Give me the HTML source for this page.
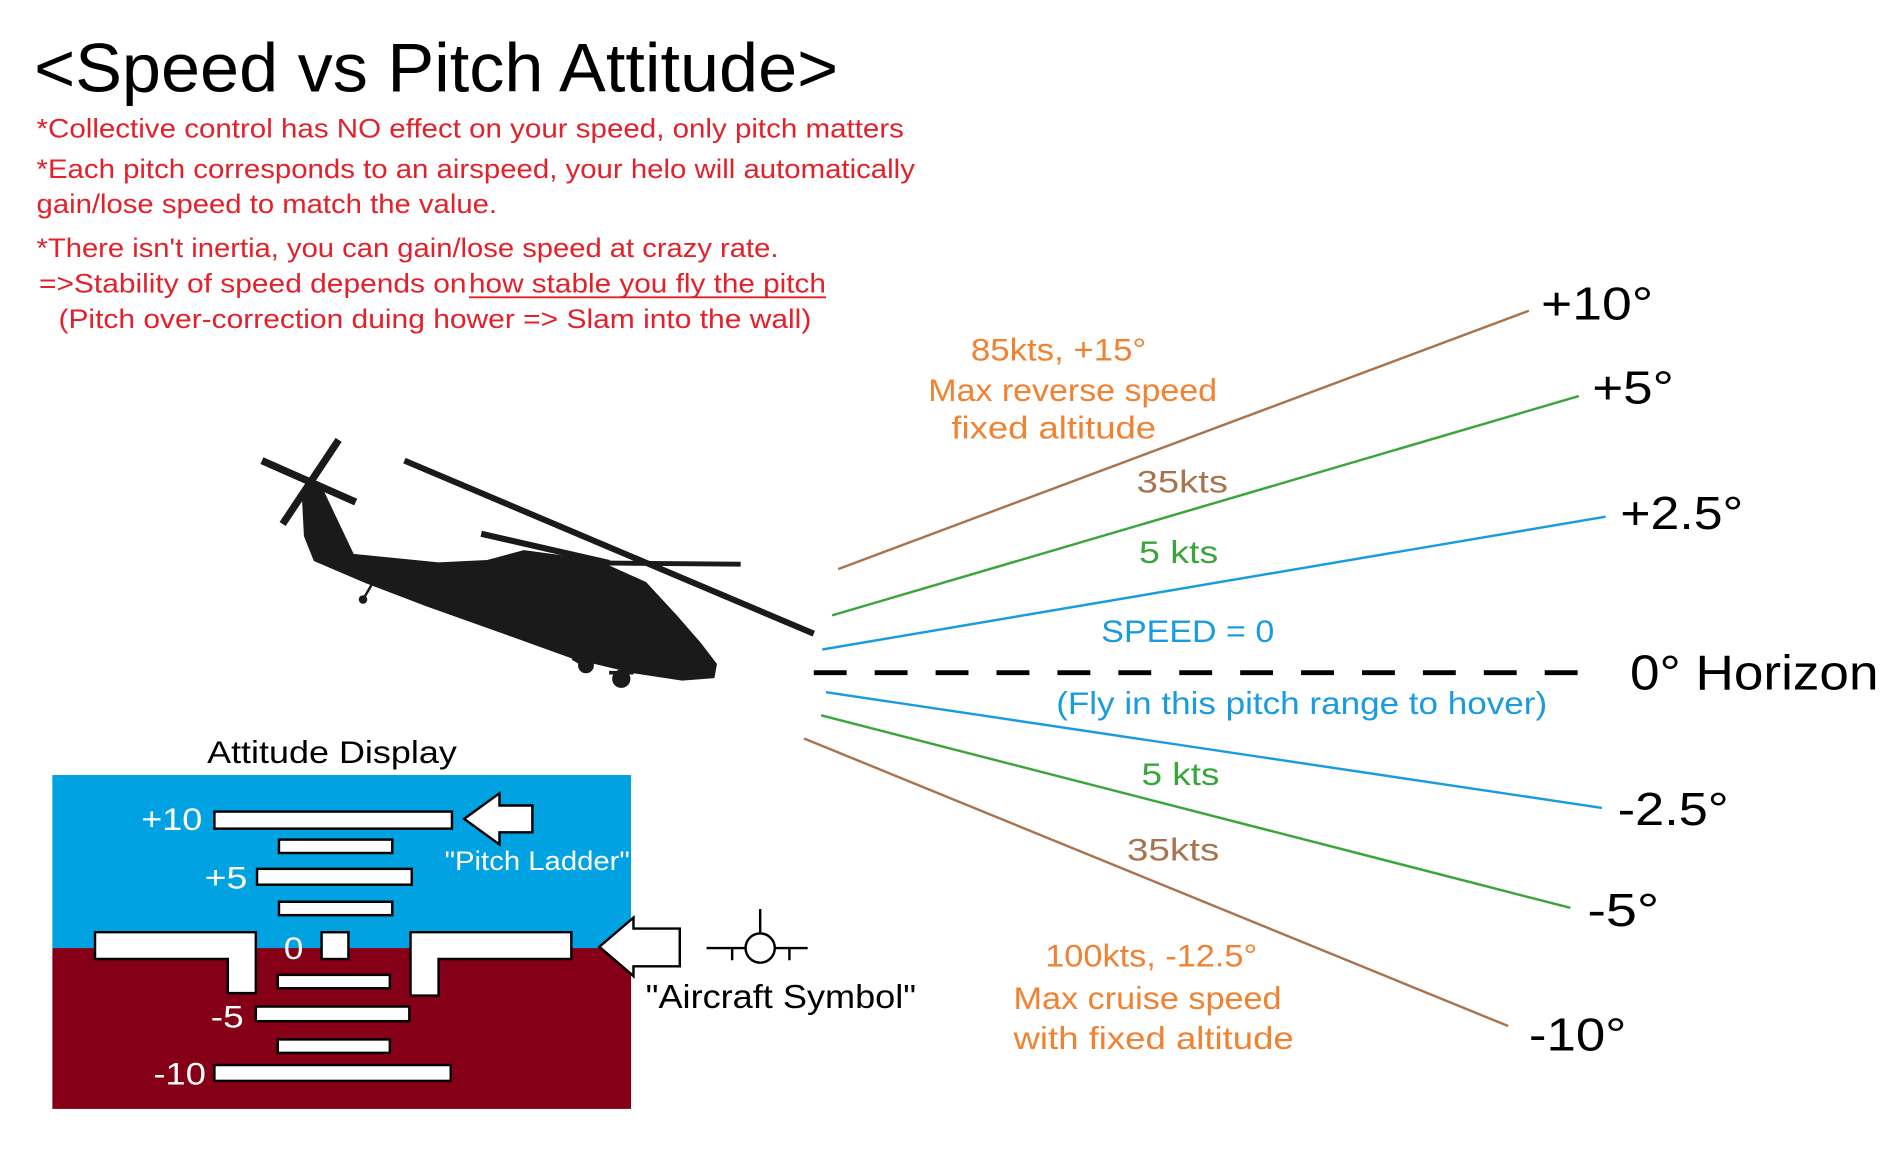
<!DOCTYPE html>
<html><head><meta charset="utf-8"><style>html,body{margin:0;padding:0;background:#fff}svg{display:block}</style></head>
<body>
<svg width="1898" height="1154" viewBox="0 0 1558 947" preserveAspectRatio="none" xmlns="http://www.w3.org/2000/svg" font-family="Liberation Sans, sans-serif">
<rect width="1558" height="947" fill="#fff"/>
<text x="28" y="75" font-size="56" fill="#000" textLength="660" lengthAdjust="spacingAndGlyphs">&lt;Speed vs Pitch Attitude&gt;</text>
<g fill="#e3212b" font-size="22">
<text x="30" y="113" textLength="712" lengthAdjust="spacingAndGlyphs">*Collective control has NO effect on your speed, only pitch matters</text>
<text x="30" y="146" textLength="721" lengthAdjust="spacingAndGlyphs">*Each pitch corresponds to an airspeed, your helo will automatically</text>
<text x="30" y="175" textLength="378" lengthAdjust="spacingAndGlyphs">gain/lose speed to match the value.</text>
<text x="30" y="211" textLength="609" lengthAdjust="spacingAndGlyphs">*There isn't inertia, you can gain/lose speed at crazy rate.</text>
<text x="32" y="240" textLength="351" lengthAdjust="spacingAndGlyphs">=&gt;Stability of speed depends on</text>
<text x="385" y="240" textLength="293" lengthAdjust="spacingAndGlyphs">how stable you fly the pitch</text>
<text x="48" y="269" textLength="618" lengthAdjust="spacingAndGlyphs">(Pitch over-correction duing hower =&gt; Slam into the wall)</text>
</g>
<line x1="385" y1="244" x2="678" y2="244" stroke="#e3212b" stroke-width="1.5"/>

<!-- helicopter -->
<g fill="#1a1a1a" stroke="#1a1a1a">
<polygon points="248,402 262,396 290,455 360,462 400,460 430,452 490,460 530,478 555,505 575,528 588,545 586,556 560,558 520,552 470,540 420,522 350,497 300,478 258,460 250,440"/>
<line x1="332" y1="378" x2="668" y2="520" stroke-width="5"/>
<line x1="395" y1="438" x2="500" y2="462" stroke-width="5"/>
<line x1="490" y1="462" x2="608" y2="463" stroke-width="4"/>
<line x1="215" y1="378" x2="292" y2="412" stroke-width="6"/>
<line x1="278" y1="361" x2="232" y2="430" stroke-width="6"/>
<circle cx="481" cy="546" r="6"/><circle cx="510" cy="557" r="7"/>
<line x1="470" y1="540" x2="480" y2="546" stroke-width="3"/><line x1="500" y1="552" x2="520" y2="552" stroke-width="3"/>
<line x1="490" y1="462" x2="492" y2="475" stroke-width="6"/>
<circle cx="298" cy="492" r="3"/><line x1="298" y1="492" x2="305" y2="480" stroke-width="2"/>
</g>

<!-- lines -->
<g stroke-width="2" fill="none">
<line x1="688" y1="467" x2="1255" y2="255" stroke="#a8744f"/>
<line x1="683" y1="505" x2="1296" y2="325" stroke="#3aa53a"/>
<line x1="675" y1="533" x2="1318" y2="424" stroke="#1a9be0"/>
<line x1="678" y1="568" x2="1315" y2="663" stroke="#1a9be0"/>
<line x1="674" y1="587" x2="1289" y2="745" stroke="#3aa53a"/>
<line x1="660" y1="606" x2="1238" y2="842" stroke="#a8744f"/>
<line x1="668" y1="552" x2="1318" y2="552" stroke="#000" stroke-width="4" stroke-dasharray="27 23"/>
</g>

<g font-size="38" fill="#000">
<text x="1265" y="262" textLength="92" lengthAdjust="spacingAndGlyphs">+10°</text>
<text x="1307" y="331" textLength="67" lengthAdjust="spacingAndGlyphs">+5°</text>
<text x="1330" y="434" textLength="101" lengthAdjust="spacingAndGlyphs">+2.5°</text>
<text x="1338" y="566" font-size="40" textLength="204" lengthAdjust="spacingAndGlyphs">0° Horizon</text>
<text x="1328" y="677" textLength="91" lengthAdjust="spacingAndGlyphs">-2.5°</text>
<text x="1303" y="760" textLength="59" lengthAdjust="spacingAndGlyphs">-5°</text>
<text x="1255" y="862" textLength="80" lengthAdjust="spacingAndGlyphs">-10°</text>
</g>

<g font-size="26">
<text x="797" y="296" fill="#f08232" textLength="144" lengthAdjust="spacingAndGlyphs">85kts, +15°</text>
<text x="762" y="329" fill="#f08232" textLength="237" lengthAdjust="spacingAndGlyphs">Max reverse speed</text>
<text x="781" y="360" fill="#f08232" textLength="168" lengthAdjust="spacingAndGlyphs">fixed altitude</text>
<text x="933" y="404" fill="#a8744f" textLength="75" lengthAdjust="spacingAndGlyphs">35kts</text>
<text x="935" y="462" fill="#3aa53a" textLength="65" lengthAdjust="spacingAndGlyphs">5 kts</text>
<text x="904" y="527" fill="#1a9be0" textLength="142" lengthAdjust="spacingAndGlyphs">SPEED = 0</text>
<text x="867" y="586" fill="#1a9be0" textLength="403" lengthAdjust="spacingAndGlyphs">(Fly in this pitch range to hover)</text>
<text x="937" y="644" fill="#3aa53a" textLength="64" lengthAdjust="spacingAndGlyphs">5 kts</text>
<text x="925" y="706" fill="#a8744f" textLength="76" lengthAdjust="spacingAndGlyphs">35kts</text>
<text x="858" y="793" fill="#f08232" textLength="174" lengthAdjust="spacingAndGlyphs">100kts, -12.5°</text>
<text x="832" y="828" fill="#f08232" textLength="220" lengthAdjust="spacingAndGlyphs">Max cruise speed</text>
<text x="832" y="861" fill="#f08232" textLength="230" lengthAdjust="spacingAndGlyphs">with fixed altitude</text>
</g>

<!-- attitude display -->
<text x="170" y="626" font-size="26" fill="#000" textLength="205" lengthAdjust="spacingAndGlyphs">Attitude Display</text>
<rect x="43" y="636" width="475" height="142" fill="#00a2e2"/>
<rect x="43" y="778" width="475" height="132" fill="#850016"/>
<g fill="#fff" stroke="#000" stroke-width="2">
<rect x="176" y="666" width="195" height="14"/>
<rect x="229" y="689" width="93" height="11"/>
<rect x="211" y="713" width="127" height="13"/>
<rect x="229" y="740" width="93" height="11"/>
<polygon points="78,765 210,765 210,815 187,815 187,787 78,787"/>
<rect x="264" y="765" width="22" height="22"/>
<polygon points="337,765 469,765 469,787 360,787 360,817 337,817"/>
<rect x="228" y="800" width="92" height="11"/>
<rect x="210" y="826" width="126" height="12"/>
<rect x="228" y="853" width="92" height="11"/>
<rect x="176" y="874" width="194" height="13"/>
<polygon points="381,672 410,651 410,661 437,661 437,683 410,683 410,693"/>
<polygon points="492,777 520,753 520,762 558,762 558,793 520,793 520,801"/>
</g>
<g fill="#fff" font-size="26">
<text x="116" y="681" textLength="50" lengthAdjust="spacingAndGlyphs">+10</text>
<text x="168" y="729" textLength="35" lengthAdjust="spacingAndGlyphs">+5</text>
<text x="233" y="787" textLength="16" lengthAdjust="spacingAndGlyphs">0</text>
<text x="173" y="843" textLength="27" lengthAdjust="spacingAndGlyphs">-5</text>
<text x="126" y="890" textLength="43" lengthAdjust="spacingAndGlyphs">-10</text>
<text x="365" y="714" font-size="22" textLength="152" lengthAdjust="spacingAndGlyphs">"Pitch Ladder"</text>
</g>
<g stroke="#000" stroke-width="2" fill="none">
<line x1="580" y1="778" x2="663" y2="778"/>
<circle cx="624" cy="778" r="12" fill="#fff"/>
<line x1="624" y1="746" x2="624" y2="766"/>
<line x1="601" y1="778" x2="601" y2="788"/>
<line x1="648" y1="778" x2="648" y2="788"/>
</g>
<text x="530" y="827" font-size="27" fill="#000" textLength="222" lengthAdjust="spacingAndGlyphs">"Aircraft Symbol"</text>
</svg>
</body></html>
